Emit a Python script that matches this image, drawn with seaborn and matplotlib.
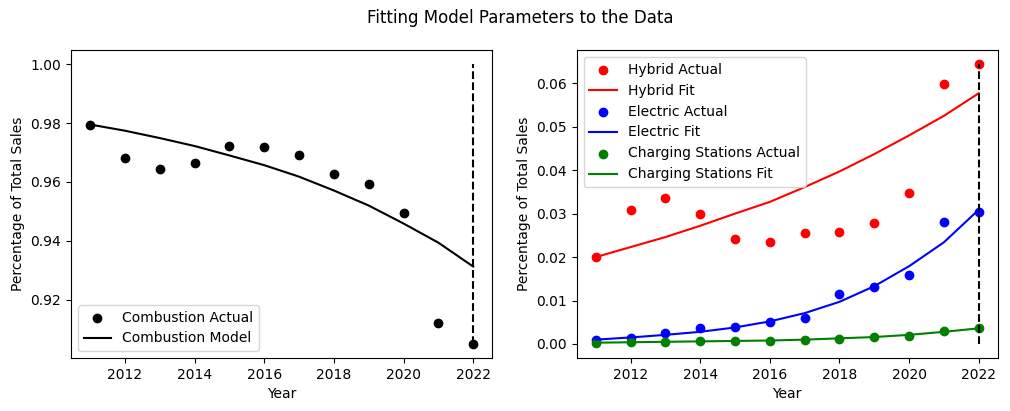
import numpy as np
import matplotlib
matplotlib.use("Agg")
import matplotlib.pyplot as plt
import seaborn as sns

years = np.arange(2011, 2023)

combustion_actual = [0.9795, 0.9682, 0.9643, 0.9665, 0.9723, 0.9720,
                     0.9690, 0.9628, 0.9594, 0.9495, 0.9121, 0.9050]
combustion_model = [0.9795, 0.9774, 0.9749, 0.9722, 0.9690, 0.9657,
                    0.9618, 0.9571, 0.9520, 0.9459, 0.9394, 0.9313]

hybrid_actual = [0.0200, 0.0308, 0.0336, 0.0299, 0.0241, 0.0234,
                 0.0255, 0.0257, 0.0278, 0.0347, 0.0598, 0.0644]
hybrid_fit = [0.0200, 0.0223, 0.0246, 0.0272, 0.0300, 0.0327,
              0.0361, 0.0397, 0.0437, 0.0480, 0.0525, 0.0577]

electric_actual = [0.0010, 0.0013, 0.0025, 0.0037, 0.0039, 0.0051,
                   0.0060, 0.0115, 0.0131, 0.0159, 0.0280, 0.0303]
electric_fit = [0.0010, 0.0015, 0.0021, 0.0028, 0.0038, 0.0052,
                0.0071, 0.0097, 0.0133, 0.0179, 0.0234, 0.0309]

charging_actual = [0.0002, 0.0005, 0.0005, 0.0007, 0.0007, 0.0008,
                   0.0009, 0.0011, 0.0015, 0.0019, 0.0030, 0.0037]
charging_fit = [0.0003, 0.0004, 0.0005, 0.0006, 0.0007, 0.0008,
                0.0010, 0.0013, 0.0016, 0.0021, 0.0028, 0.0036]


def main():
    fig, (ax1, ax2) = plt.subplots(1, 2, figsize=(10.1, 4.11), dpi=100)
    fig.subplots_adjust(left=0.0703, right=0.988, bottom=0.129, top=0.878, wspace=0.20)

    # left panel: combustion
    sns.scatterplot(x=years, y=combustion_actual, color='black', s=36,
                    edgecolor='black', linewidth=1, label='Combustion Actual', ax=ax1)
    sns.lineplot(x=years, y=combustion_model, color='black',
                 label='Combustion Model', ax=ax1)
    ax1.vlines(2022, min(combustion_actual), 1.0, colors='black', linestyles='dashed')
    ax1.set_xlabel('Year')
    ax1.set_ylabel('Percentage of Total Sales')
    ax1.legend(loc='lower left')

    # right panel: hybrid / electric / charging
    for actual, fit, col, name in [
        (hybrid_actual, hybrid_fit, 'red', 'Hybrid'),
        (electric_actual, electric_fit, 'blue', 'Electric'),
        (charging_actual, charging_fit, 'green', 'Charging Stations'),
    ]:
        sns.scatterplot(x=years, y=actual, color=col, s=36, edgecolor=col,
                        linewidth=1, label=f'{name} Actual', ax=ax2)
        sns.lineplot(x=years, y=fit, color=col, label=f'{name} Fit', ax=ax2)
    ax2.vlines(2022, 0, max(hybrid_actual), colors='black', linestyles='dashed')
    ax2.set_xlabel('Year')
    ax2.set_ylabel('Percentage of Total Sales')
    ax2.legend(loc='upper left')

    fig.suptitle('Fitting Model Parameters to the Data', x=0.515, y=0.956, va='center')
    fig.savefig('out.png', dpi=100)
    plt.close(fig)


if __name__ == '__main__':
    main()
